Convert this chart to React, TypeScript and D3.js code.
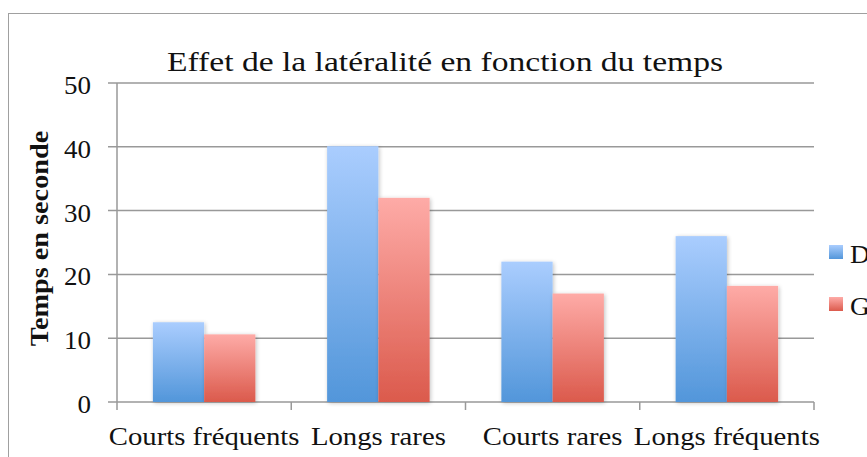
import React from 'react';
import * as d3 from 'd3';

const categories = ['Courts fréquents', 'Longs rares', 'Courts rares', 'Longs fréquents'];
const seriesNames = ['D', 'G'];
const valuesD = [12.5, 40.1, 22, 26];
const valuesG = [10.6, 32, 17, 18.2];
const yTicks = [0, 10, 20, 30, 40, 50];

const W = 867;
const H = 457;
const margin = { left: 117, right: 53, top: 83, bottom: 55 };
const font = '"Liberation Serif", serif';
// reference font is wider than Liberation Serif, stretch horizontally
const stretch = 1.15;

export default function App() {
  const x0 = d3.scaleBand().domain(categories).range([margin.left, W - margin.right]).paddingInner(0).paddingOuter(0);
  const inner = d3.scaleBand().domain(seriesNames).range([0, x0.bandwidth()]).paddingOuter(0.7).paddingInner(0);
  const y = d3.scaleLinear().domain([0, 50]).range([H - margin.bottom, margin.top]);
  const series = [valuesD, valuesG];
  const grads = ['gradD', 'gradG'];
  const bottom = y(0);

  return (
    <svg width={W} height={H} style={{ position: 'absolute', left: 0, top: 0 }}>
      <defs>
        <linearGradient id="gradD" x1="0" y1="0" x2="0" y2="1">
          <stop offset="0" stopColor="#aacdfe" />
          <stop offset="1" stopColor="#5296da" />
        </linearGradient>
        <linearGradient id="gradG" x1="0" y1="0" x2="0" y2="1">
          <stop offset="0" stopColor="#feaba7" />
          <stop offset="1" stopColor="#db5a4c" />
        </linearGradient>
        <filter id="shadow" x="-20%" y="-10%" width="140%" height="120%">
          <feGaussianBlur in="SourceAlpha" stdDeviation="2" />
          <feOffset dx="1" dy="1" />
          <feComponentTransfer><feFuncA type="linear" slope="0.25" /></feComponentTransfer>
          <feMerge><feMergeNode /><feMergeNode in="SourceGraphic" /></feMerge>
        </filter>
      </defs>
      <rect x={8.5} y={13.5} width={W} height={H} fill="white" stroke="#a0a0a0" strokeWidth={1} />
      <text transform={`translate(445,71) scale(1.2,1)`} textAnchor="middle" fontFamily={font} fontSize={28} fill="#111">
        Effet de la latéralité en fonction du temps
      </text>
      {yTicks.map(t => (
        <g key={t}>
          <line x1={margin.left - 9} x2={W - margin.right} y1={y(t)} y2={y(t)} stroke="#999" strokeWidth={1.5} />
          <text transform={`translate(91,${y(t) + 11}) scale(1.08,1)`} textAnchor="end" fontFamily={font} fontSize={25} fill="#111">{t}</text>
        </g>
      ))}
      <line x1={margin.left} x2={margin.left} y1={y(50)} y2={bottom + 8} stroke="#999" strokeWidth={1.5} />
      {categories.map(c => (
        <line key={c} x1={x0(c)! + x0.bandwidth()} x2={x0(c)! + x0.bandwidth()} y1={bottom} y2={bottom + 8} stroke="#999" strokeWidth={1.5} />
      ))}
      {categories.map((c, i) => (
        <g key={c}>
          {series.map((vals, s) => (
            <rect key={s} x={x0(c)! + inner(seriesNames[s])!} y={y(vals[i])} width={inner.bandwidth()} height={bottom - y(vals[i])} fill={`url(#${grads[s]})`} filter="url(#shadow)" />
          ))}
          <text transform={`translate(${x0(c)! + x0.bandwidth() / 2},445) scale(${stretch},1)`} textAnchor="middle" fontFamily={font} fontSize={25} fill="#111">{c}</text>
        </g>
      ))}
      <text transform={`translate(48,${(y(0) + y(50)) / 2 - 4}) rotate(-90) scale(1.13,1)`} textAnchor="middle" fontFamily={font} fontSize={25} fontWeight="bold" fill="#111">
        Temps en seconde
      </text>
      {seriesNames.map((s, i) => (
        <g key={s}>
          <rect x={829} y={245 + i * 52} width={14} height={14} fill={`url(#${grads[i]})`} />
          <text transform={`translate(850,${263 + i * 52}) scale(1.1,1)`} fontFamily={font} fontSize={25} fill="#111">{s}</text>
        </g>
      ))}
    </svg>
  );
}
